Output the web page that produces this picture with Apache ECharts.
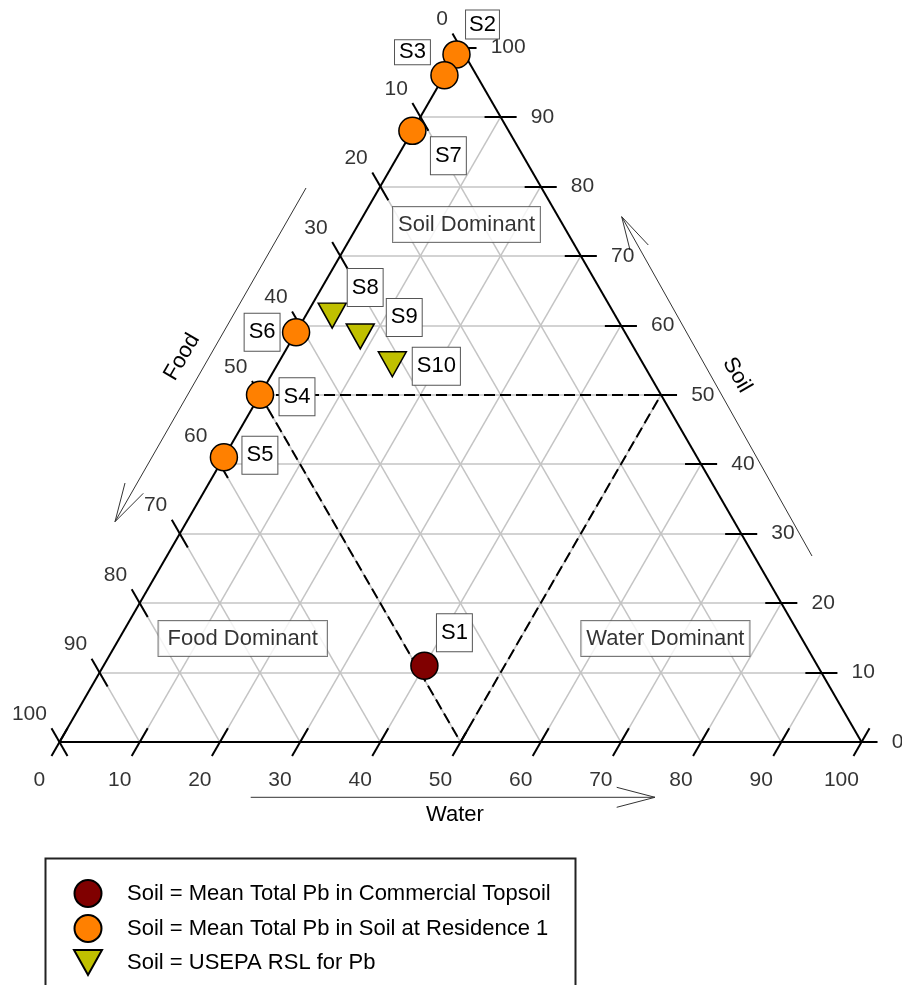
<!DOCTYPE html>
<html>
<head>
<meta charset="utf-8">
<script src="https://cdn.jsdelivr.net/npm/echarts@6/dist/echarts.min.js"></script>
<style>html,body{margin:0;padding:0;background:#fff}#c{width:902px;height:985px}</style>
</head>
<body>
<div id="c"></div>
<script>
// ---------- data (percent contributions) ----------
const tickValues = [0, 10, 20, 30, 40, 50, 60, 70, 80, 90, 100];
const gridValues = [10, 20, 30, 40, 50, 60, 70, 80, 90];
const seriesNames = [
  'Soil = Mean Total Pb in Commercial Topsoil',
  'Soil = Mean Total Pb in Soil at Residence 1',
  'Soil = USEPA RSL for Pb'
];
// Commercial topsoil
const commercialNames = ['S1'];
const commercialWater = [40];
const commercialSoil = [11];
const commercialFood = [49];
// Residence 1
const residenceNames = ['S2', 'S3', 'S7', 'S6', 'S4', 'S5'];
const residenceWater = [0, 0, 0, 0, 0, 0];
const residenceSoil = [99, 96, 88, 59, 50, 41];
const residenceFood = [1, 4, 12, 41, 50, 59];
// USEPA RSL
const rslNames = ['S8', 'S9', 'S10'];
const rslWater = [3.3, 8.3, 14.3];
const rslSoil = [61.4, 58.4, 54.4];
const rslFood = [35.3, 33.3, 31.3];
// Region annotations
const regionNames = ['Soil Dominant', 'Food Dominant', 'Water Dominant'];
const regionWater = [13.5, 15.4, 68.1];
const regionSoil = [74.5, 14.9, 14.9];
const dividerValue = 50;
const axisTitles = ['Water', 'Soil', 'Food'];

// ---------- styling ----------
const FONT = 'Liberation Sans, Arial, sans-serif';
const labelOffsets = {
  S1: [30, -33], S2: [26, -30], S3: [-32, -23], S7: [36, 25], S6: [-34, 0],
  S4: [37, 2], S5: [36, -2], S8: [33, -28], S9: [44, -19], S10: [44, 2]
};
const labelPads = { S2: [2, 3], S3: [0, 4] };
const regionPads = { 'Food Dominant': [5, 9] };

// ---------- ternary -> cartesian ----------
const H = Math.sqrt(3) / 2;
function tern(w, s) { return [w + s / 2, s * H]; }
function add(p, d, k) { return [p[0] + d[0] * k, p[1] + d[1] * k]; }

const gridSegs = [];
gridValues.forEach(k => {
  gridSegs.push({ coords: [tern(0, k), tern(100 - k, k)] });     // soil
  gridSegs.push({ coords: [tern(k, 0), tern(k, 100 - k)] });     // water
  gridSegs.push({ coords: [tern(100 - k, 0), tern(0, 100 - k)] }); // food
});
const edgeSegs = [
  { coords: [tern(0, 0), tern(100, 0)] },
  { coords: [tern(100, 0), tern(0, 100)] },
  { coords: [tern(0, 100), tern(0, 0)] }
];
const v = dividerValue;
const dashSegs = [
  { coords: [tern(0, v), tern(100 - v, v)] },
  { coords: [tern(0, v), tern(100 - v, 0)] },
  { coords: [tern(v, 0), tern(v, 100 - v)] }
];
const L = 2;
const dW = [0.5, H], dS = [1, 0], dF = [0.5, -H];
const tickSegs = [];
const waterLab = [], soilLab = [], foodLab = [];
tickValues.forEach(t => {
  const pw = tern(t, 0), ps = tern(100 - t, t), pf = tern(0, 100 - t);
  tickSegs.push({ coords: [add(pw, dW, -L), add(pw, dW, L)] });
  tickSegs.push({ coords: [add(ps, dS, -L), add(ps, dS, L)] });
  tickSegs.push({ coords: [add(pf, dF, -L), add(pf, dF, L)] });
  waterLab.push({ name: String(t), value: [pw[0] - 2.5, pw[1] - 4.7] });
  soilLab.push({ name: String(t), value: [ps[0] + 3.7, ps[1]] });
  foodLab.push({ name: String(t), value: [pf[0] - 1.5, pf[1] + 3.5] });
});

function pointData(names, water, soil) {
  return names.map((n, i) => ({
    name: n,
    value: tern(water[i], soil[i]),
    label: { offset: labelOffsets[n], padding: labelPads[n] || [6, 4], lineHeight: labelPads[n] ? 24 : 25 }
  }));
}
const pointLabel = {
  show: true, formatter: '{b}', position: 'inside', color: '#000',
  fontSize: 22, fontFamily: FONT, backgroundColor: '#fff',
  borderColor: '#555', borderWidth: 1
};
const tickLabelStyle = { show: true, formatter: '{b}', color: '#000', fontSize: 21, fontFamily: FONT };
function labelSeries(data, extra) {
  return {
    type: 'scatter', data: data, symbolSize: 1, clip: false, silent: true, z: 3,
    itemStyle: { color: 'rgba(0,0,0,0)' },
    label: Object.assign({}, tickLabelStyle, extra)
  };
}

const chart = echarts.init(document.getElementById('c'), null, { renderer: 'canvas' });
chart.setOption({
  animation: false,
  backgroundColor: '#fff',
  grid: { left: 59.5, top: 47.5, width: 802, height: 802 * H },
  xAxis: { type: 'value', min: 0, max: 100, show: false },
  yAxis: { type: 'value', min: 0, max: 100 * H, show: false },
  legend: {
    orient: 'vertical', left: 73, top: 879, height: 140, padding: 0,
    itemWidth: 28, itemHeight: 27, itemGap: 6,
    selectedMode: false,
    data: [
      { name: seriesNames[0] },
      { name: seriesNames[1] },
      { name: seriesNames[2], icon: 'path://M0,0L28,0L14,25Z' }
    ],
    textStyle: { fontSize: 22, fontFamily: FONT, color: '#000', padding: [0, 0, 0, 20] }
  },
  graphic: [
    { type: 'rect', shape: { x: 45.5, y: 858.5, width: 530, height: 200 }, style: { fill: null, stroke: '#222', lineWidth: 2 } },
    { type: 'polyline', shape: { points: [[250.7, 797.3], [655, 797.3]] }, style: { stroke: '#333', lineWidth: 1, fill: null } },
    { type: 'polyline', shape: { points: [[616.7, 787.3], [655, 797.3], [616.7, 807.3]] }, style: { stroke: '#333', lineWidth: 1, fill: null } },
    { type: 'polyline', shape: { points: [[621.7, 216.7], [812, 556]] }, style: { stroke: '#333', lineWidth: 1, fill: null } },
    { type: 'polyline', shape: { points: [[630, 250], [621.7, 216.7], [648.3, 245]] }, style: { stroke: '#333', lineWidth: 1, fill: null } },
    { type: 'polyline', shape: { points: [[306, 188], [115, 521.7]] }, style: { stroke: '#333', lineWidth: 1, fill: null } },
    { type: 'polyline', shape: { points: [[125, 483], [115, 521.7], [143.3, 493.3]] }, style: { stroke: '#333', lineWidth: 1, fill: null } },
    { type: 'text', x: 455, y: 815, style: { text: axisTitles[0], fontSize: 22, fontFamily: FONT, fill: '#000', align: 'center', verticalAlign: 'middle' } },
    { type: 'text', x: 737, y: 375, rotation: -Math.PI / 3, style: { text: axisTitles[1], fontSize: 22, fontFamily: FONT, fill: '#000', align: 'center', verticalAlign: 'middle' } },
    { type: 'text', x: 182, y: 357, rotation: Math.PI / 3, style: { text: axisTitles[2], fontSize: 22, fontFamily: FONT, fill: '#000', align: 'center', verticalAlign: 'middle' } }
  ],
  series: [
    { type: 'lines', coordinateSystem: 'cartesian2d', silent: true, z: 1, data: gridSegs,
      lineStyle: { color: '#c4c4c4', width: 1.5, opacity: 1 } },
    { type: 'lines', coordinateSystem: 'cartesian2d', silent: true, z: 2, data: edgeSegs,
      lineStyle: { color: '#000', width: 2, opacity: 1 } },
    { type: 'lines', coordinateSystem: 'cartesian2d', silent: true, z: 2, clip: false, data: tickSegs,
      lineStyle: { color: '#000', width: 2, opacity: 1 } },
    { type: 'lines', coordinateSystem: 'cartesian2d', silent: true, z: 2, data: dashSegs,
      lineStyle: { color: '#000', width: 2, type: [11, 5], opacity: 1 } },
    labelSeries(waterLab, { position: 'inside' }),
    labelSeries(soilLab, { position: 'right', distance: 0 }),
    labelSeries(foodLab, { position: 'left', distance: 0 }),
    { type: 'scatter', silent: true, z: 3, symbolSize: 1, itemStyle: { color: 'rgba(0,0,0,0)' },
      data: regionNames.map((n, i) => ({ name: n, value: tern(regionWater[i], regionSoil[i]), label: { padding: regionPads[n] || [5, 5] } })),
      label: { show: true, formatter: '{b}', position: 'inside', color: '#000', fontSize: 22, fontFamily: FONT,
        backgroundColor: '#fff', borderColor: '#555', borderWidth: 1, lineHeight: 25 } },
    { name: seriesNames[0], type: 'scatter', z: 4, symbol: 'circle', symbolSize: 27,
      itemStyle: { color: '#800000', borderColor: '#000', borderWidth: 1.5, opacity: 1 },
      data: pointData(commercialNames, commercialWater, commercialSoil), label: pointLabel },
    { name: seriesNames[1], type: 'scatter', z: 4, symbol: 'circle', symbolSize: 27,
      itemStyle: { color: '#ff8000', borderColor: '#000', borderWidth: 1.5, opacity: 1 },
      data: pointData(residenceNames, residenceWater, residenceSoil), label: pointLabel },
    { name: seriesNames[2], type: 'scatter', z: 4, symbol: 'triangle', symbolRotate: 180, symbolSize: [28, 25],
      itemStyle: { color: '#c0c000', borderColor: '#000', borderWidth: 1.5, opacity: 1 },
      data: pointData(rslNames, rslWater, rslSoil), label: pointLabel }
  ]
});
</script>
</body>
</html>
